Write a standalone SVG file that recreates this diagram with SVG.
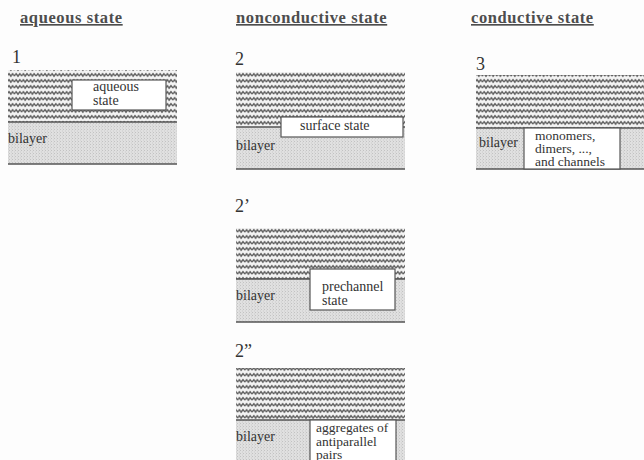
<svg xmlns="http://www.w3.org/2000/svg" width="644" height="460" viewBox="0 0 644 460">
<style>
.hd{font-family:"Liberation Serif",serif;font-size:16.5px;font-weight:bold;letter-spacing:0.6px;fill:#4d4d4d;text-decoration:underline}
.num{font-family:"Liberation Serif",serif;font-size:18px;fill:#333}
.lb{font-family:"Liberation Serif",serif;font-size:14px;fill:#333}
.lb2{font-family:"Liberation Serif",serif;font-size:13.5px;fill:#333}
.water{fill:url(#wave)}
.bil{fill:url(#stip)}
.box{fill:#fff;stroke:#555;stroke-width:1.2}
.ln{stroke:#555;stroke-width:1.6}
</style>
<defs>
<pattern id="wave" patternUnits="userSpaceOnUse" width="7.2" height="6">
<rect width="7.2" height="6" fill="#f4f4f4"/>
<path d="M-0.1,4.2 L1.8,1.6 L3.6,4.2 L5.4,1.6 L7.3,4.2" fill="none" stroke="#606060" stroke-width="1.4"/>
</pattern>
<pattern id="stip" patternUnits="userSpaceOnUse" width="3" height="3">
<rect width="3" height="3" fill="#e0e0e0"/>
<rect x="0" y="0" width="1" height="1" fill="#c2c2c2"/>
<rect x="2" y="1.5" width="1" height="1" fill="#cccccc"/>
</pattern>
</defs>
<rect width="644" height="460" fill="#fdfdfd"/>

<text class="hd" x="20" y="23">aqueous state</text>
<text class="hd" x="236" y="23">nonconductive state</text>
<text class="hd" x="471" y="23">conductive state</text>

<g id="panel1">
<text class="num" x="12" y="63">1</text>
<rect class="water" x="8" y="70" width="169" height="52"/>
<rect class="bil" x="8" y="122" width="169" height="42"/>
<line class="ln" x1="8" y1="122" x2="177" y2="122"/>
<line class="ln" x1="8" y1="164" x2="177" y2="164"/>
<rect class="box" x="72" y="80" width="94" height="30"/>
<text class="lb" x="93" y="91">aqueous</text>
<text class="lb" x="93" y="105">state</text>
<text class="lb" x="8" y="143">bilayer</text>
</g>

<g id="panel2">
<text class="num" x="235" y="65">2</text>
<rect class="water" x="236" y="72" width="169" height="55"/>
<rect class="bil" x="236" y="127" width="169" height="42"/>
<line class="ln" x1="236" y1="127" x2="405" y2="127"/>
<line class="ln" x1="236" y1="169" x2="405" y2="169"/>
<rect class="box" x="281" y="117" width="122" height="20"/>
<text class="lb" x="300" y="130">surface state</text>
<text class="lb" x="236" y="150">bilayer</text>
</g>

<g id="panel3">
<text class="num" x="476" y="70">3</text>
<rect class="water" x="476" y="75" width="168" height="53"/>
<rect class="bil" x="476" y="128" width="168" height="41"/>
<line class="ln" x1="476" y1="128" x2="644" y2="128"/>
<line class="ln" x1="476" y1="169" x2="644" y2="169"/>
<rect class="box" x="524" y="128" width="96" height="41"/>
<text class="lb" x="479" y="147">bilayer</text>
<text class="lb2" x="535" y="140">monomers,</text>
<text class="lb2" x="535" y="153">dimers, ...,</text>
<text class="lb2" x="535" y="166">and channels</text>
</g>

<g id="panel2p">
<text class="num" x="235" y="212">2’</text>
<rect class="water" x="236" y="228" width="169" height="51"/>
<rect class="bil" x="236" y="279" width="169" height="43"/>
<line class="ln" x1="236" y1="279" x2="405" y2="279"/>
<line class="ln" x1="236" y1="322" x2="405" y2="322"/>
<rect class="box" x="310" y="269" width="85" height="41"/>
<text class="lb" x="322" y="291">prechannel</text>
<text class="lb" x="322" y="305">state</text>
<text class="lb" x="236" y="300">bilayer</text>
</g>

<g id="panel2pp">
<text class="num" x="235" y="357">2”</text>
<rect class="water" x="236" y="368" width="169" height="52"/>
<rect class="bil" x="236" y="420" width="169" height="40"/>
<line class="ln" x1="236" y1="420" x2="405" y2="420"/>
<rect class="box" x="310" y="420" width="86" height="45"/>
<text class="lb2" x="316" y="432">aggregates of</text>
<text class="lb2" x="316" y="445.5">antiparallel</text>
<text class="lb2" x="316" y="459">pairs</text>
<text class="lb" x="236" y="441">bilayer</text>
</g>
</svg>
